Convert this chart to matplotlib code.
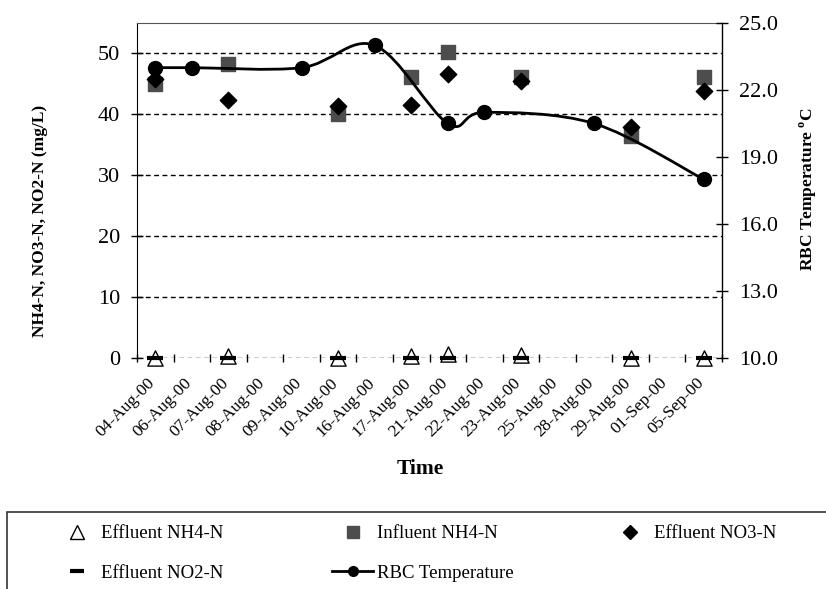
import matplotlib
matplotlib.use("Agg")
import matplotlib.pyplot as plt
import matplotlib.transforms as mtransforms
from matplotlib.path import Path
from matplotlib.patches import PathPatch, Rectangle
from matplotlib.lines import Line2D
import numpy as np

plt.rcParams['font.family'] = ['Liberation Serif', 'DejaVu Serif']
plt.rcParams['mathtext.fontset'] = 'custom'
plt.rcParams['mathtext.rm'] = 'Liberation Serif'
plt.rcParams['mathtext.bf'] = 'Liberation Serif:bold'

dates = ["04-Aug-00", "06-Aug-00", "07-Aug-00", "08-Aug-00", "09-Aug-00", "10-Aug-00",
         "16-Aug-00", "17-Aug-00", "21-Aug-00", "22-Aug-00", "23-Aug-00", "25-Aug-00",
         "28-Aug-00", "29-Aug-00", "01-Sep-00", "05-Sep-00"]

# samples taken on these dates (index into dates)
n_idx = [0, 2, 5, 7, 8, 10, 13, 15]
eff_nh4 = [0.0, 0.4, 0.0, 0.4, 0.7, 0.5, 0.0, 0.0]
inf_nh4 = [45.0, 48.2, 40.1, 46.1, 50.2, 46.1, 36.4, 46.1]
eff_no3 = [45.8, 42.4, 41.3, 41.6, 46.7, 45.4, 38.0, 43.8]
eff_no2 = [0.0, 0.0, 0.0, 0.0, 0.0, 0.0, 0.0, 0.0]

t_idx = [0, 1, 4, 6, 8, 9, 12, 15]
rbc_temp = [23.0, 23.0, 23.0, 24.0, 20.5, 21.0, 20.5, 18.0]

fig = plt.figure(figsize=(8.26, 5.89), dpi=100)
ax = fig.add_axes([137 / 826, 1 - 358 / 589, 585 / 826, 335 / 589])
ax2 = ax.twinx()

# left axis
ax.set_xlim(-0.5, len(dates) - 0.5)
ax.set_ylim(0, 55)
ax.set_yticks(range(0, 60, 10))
for v in range(0, 60, 10):
    ax.axhline(v, color='black', lw=1.0, ls=(0, (3.5, 2.5)), zorder=1)

ax.set_xticks(np.arange(-0.5, len(dates), 1.0))
ax.set_xticklabels([])
ax.set_xticks(range(len(dates)), minor=True)
ax.set_xticklabels(dates, minor=True, rotation=45, ha='right',
                   rotation_mode='anchor', fontsize=12.5)
ax.tick_params(axis='x', which='major', direction='inout', length=6, width=1)
ax.tick_params(axis='x', which='minor', length=0, pad=12)
off = mtransforms.ScaledTranslation(-8 / 100, 0, fig.dpi_scale_trans)
for lab in ax.get_xticklabels(minor=True):
    lab.set_transform(lab.get_transform() + off)
ax.tick_params(axis='y', direction='inout', length=8, width=1, labelsize=16, pad=8)

ax.spines['bottom'].set_visible(False)
ax.spines['top'].set_color('#555555')
ax.spines['right'].set_visible(False)

ax.scatter(n_idx, inf_nh4, marker='s', s=110, color='#4d4d4d', zorder=3)
ax.scatter(n_idx, eff_no3, marker='D', s=70, color='black', zorder=4)
ax.scatter(n_idx, eff_nh4, marker='^', s=120, facecolor='white', edgecolor='black',
           linewidths=1, zorder=5, clip_on=False)
ax.scatter(n_idx, eff_no2, marker='_', s=140, color='black', linewidths=3, zorder=6,
           clip_on=False)

ax.set_ylabel('NH4-N, NO3-N, NO2-N (mg/L)', fontsize=12.5, fontweight='bold')
ax.yaxis.set_label_coords(-0.152, 0.41)
ax.set_xlabel('Time', fontsize=15.5, fontweight='bold')
ax.xaxis.set_label_coords(0.484, -0.30)

# right axis: smoothed temperature line (Excel-like bezier)
ax2.set_ylim(10, 25)
ax2.set_yticks(np.arange(10, 25.1, 3))
ax2.set_yticklabels(['%.1f' % v for v in np.arange(10, 25.1, 3)])
ax2.tick_params(axis='y', direction='inout', length=8, width=1, labelsize=16, pad=8)
for s in ['top', 'left', 'bottom']:
    ax2.spines[s].set_visible(False)
ax2.spines['right'].set_linewidth(1)

px = np.array(t_idx, dtype=float)
py = np.array(rbc_temp)
verts = [(px[0], py[0])]
codes = [Path.MOVETO]
n = len(px)
for i in range(n - 1):
    p0 = np.array([px[max(i - 1, 0)], py[max(i - 1, 0)]])
    p1 = np.array([px[i], py[i]])
    p2 = np.array([px[i + 1], py[i + 1]])
    p3 = np.array([px[min(i + 2, n - 1)], py[min(i + 2, n - 1)]])
    c1 = p1 + (p2 - p0) / 6
    c2 = p2 - (p3 - p1) / 6
    verts += [tuple(c1), tuple(c2), tuple(p2)]
    codes += [Path.CURVE4] * 3
ax2.add_patch(PathPatch(Path(verts, codes), facecolor='none', edgecolor='black', lw=2, zorder=3))
ax2.plot(t_idx, rbc_temp, 'o', color='black', ms=10, zorder=4)

ax2.set_ylabel('RBC Temperature $^{\\mathbf{o}}$C', fontsize=12.5, fontweight='bold')
ax2.yaxis.set_label_coords(1.13, 0.505)

# legend box at the bottom
fig.patches.append(Rectangle((7 / 826, -0.05), 1.0, (589 - 512) / 589 + 0.05,
                             transform=fig.transFigure, facecolor='white',
                             edgecolor='#333333', lw=1.2, zorder=0))
h_eff = Line2D([], [], ls='none', marker='^', ms=10, mfc='white', mec='black', mew=1)
h_no2 = Line2D([], [], ls='none', marker='_', ms=10, mew=3, color='black')
h_inf = Line2D([], [], ls='none', marker='s', ms=9, color='#4d4d4d')
h_rbc = Line2D([], [], color='black', lw=2, marker='o', ms=7)
h_no3 = Line2D([], [], ls='none', marker='D', ms=7, color='black')
cols = [([h_eff, h_no2], ['Effluent NH4-N', 'Effluent NO2-N'], 56),
        ([h_inf, h_rbc], ['Influent NH4-N', 'RBC Temperature'], 332),
        ([h_no3], ['Effluent NO3-N'], 609)]
for hs, ls_, x0 in cols:
    fig.legend(hs, ls_, loc='upper left', bbox_to_anchor=(x0 / 826, 1 - 525 / 589),
               frameon=False, fontsize=13.5, handlelength=2.2, handletextpad=0.2,
               borderpad=0, borderaxespad=0, labelspacing=1.2, numpoints=1)

fig.savefig('out.png', dpi=100)
